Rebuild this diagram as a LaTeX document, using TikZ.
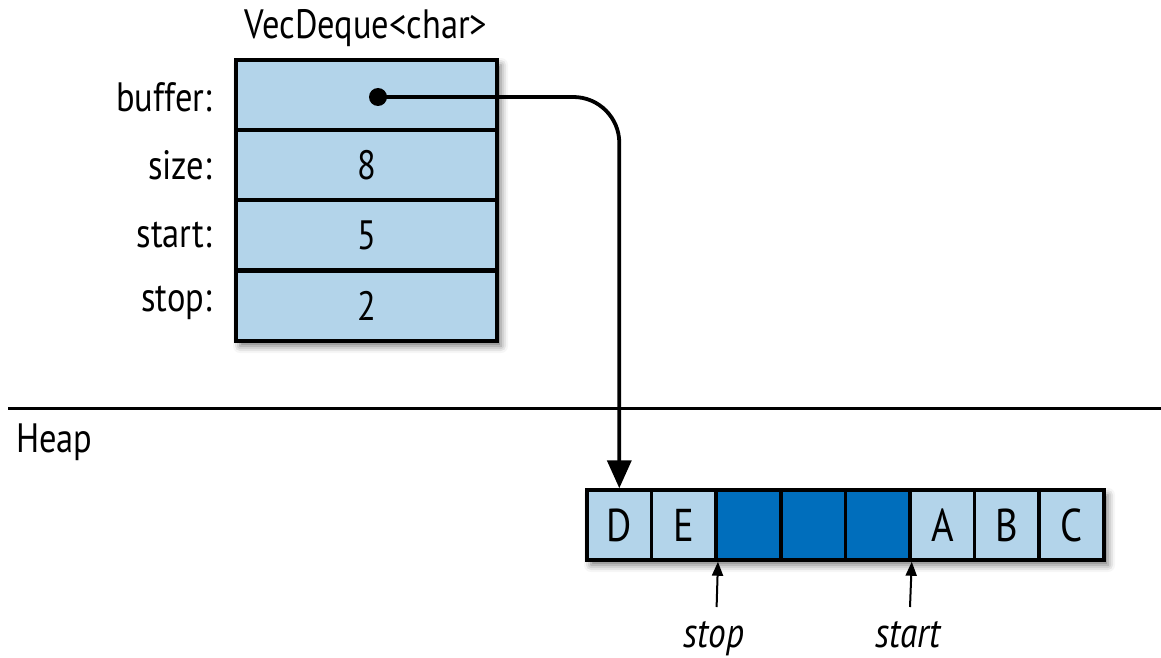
\documentclass[tikz,border=0pt]{standalone}
\usepackage{fontspec}
\setmainfont{PT Sans}[FakeStretch=0.84]
\usetikzlibrary{shadows.blur,arrows.meta}
\definecolor{lightcell}{HTML}{B3D4EA}
\definecolor{darkcell}{HTML}{006EBC}
\tikzset{
  cellbox/.style={draw=black, line width=3.5pt, fill=lightcell, inner sep=0pt, anchor=center},
  bgbox/.style={draw=black, line width=3.5pt, fill=lightcell, inner sep=0pt,
     blur shadow={shadow xshift=4pt, shadow yshift=-5pt, shadow blur radius=7pt, shadow opacity=55}},
  srow/.style={cellbox, minimum width=261pt, minimum height=70pt, font=\fontsize{41}{45}\selectfont},
  acell/.style={cellbox, minimum width=64.6pt, minimum height=70pt, font=\fontsize{46}{50}\selectfont},
  dcell/.style={acell, fill=darkcell},
  flabel/.style={anchor=east, inner sep=0pt, font=\fontsize{41}{45}\selectfont},
  ptrlabel/.style={anchor=north, inner sep=0pt, font=\fontsize{42}{46}\selectfont\itshape},
}
\begin{document}
\begin{tikzpicture}[x=1pt,y=-1pt]
\useasboundingbox (0,0) rectangle (1161,658);
% struct
\node[font=\fontsize{41}{45}\selectfont, inner sep=0pt] (title) at (366,28) {VecDeque<char>};
\node[bgbox, minimum width=261pt, minimum height=281pt] (sbg) at (366.5,200.5) {};
\node[srow] (r1) at (366.5,95) {};
\node[srow] (r2) at (366.5,165) {8};
\node[srow] (r3) at (366.5,235) {5};
\node[srow] (r4) at (366.5,306) {2};
\node[flabel] (l1) at (212,97) {buffer:};
\node[flabel] (l2) at (212,165) {size:};
\node[flabel] (l3) at (212,235) {start:};
\node[flabel] (l4) at (212,303) {stop:};
% heap divider
\draw[line width=3pt] (8,408) -- (1161,408);
\node[anchor=west, inner sep=0pt, font=\fontsize{41}{45}\selectfont] (heap) at (16,442) {Heap};
% array
\node[bgbox, minimum width=517pt, minimum height=70pt] (abg) at (845.5,525) {};
\node[acell] (c1) at (619.3,525) {D};
\node[acell] (c2) at (683.9,525) {E};
\node[dcell] (c3) at (748.5,525) {};
\node[dcell] (c4) at (813.1,525) {};
\node[dcell] (c5) at (877.7,525) {};
\node[acell] (c6) at (942.3,525) {A};
\node[acell] (c7) at (1006.9,525) {B};
\node[acell] (c8) at (1071.5,525) {C};
% pointer
\node[circle, fill=black, inner sep=0pt, minimum size=18pt] (dot) at (378,97) {};
\draw[line width=3.8pt, rounded corners=46pt, -{Triangle[length=28pt,width=24pt]}]
  (dot.center) -| (c1.north);
% stop / start markers
\coordinate (stopend) at (716.6,607);
\coordinate (startend) at (910,607);
\draw[line width=2pt, -{Triangle[length=14pt,width=11pt]}] (stopend) -- (c2.south east);
\draw[line width=2pt, -{Triangle[length=14pt,width=11pt]}] (startend) -- (c5.south east);
\node[ptrlabel] (stoplbl) at (714,621) {stop};
\node[ptrlabel] (startlbl) at (908,621) {start};
\end{tikzpicture}
\end{document}
